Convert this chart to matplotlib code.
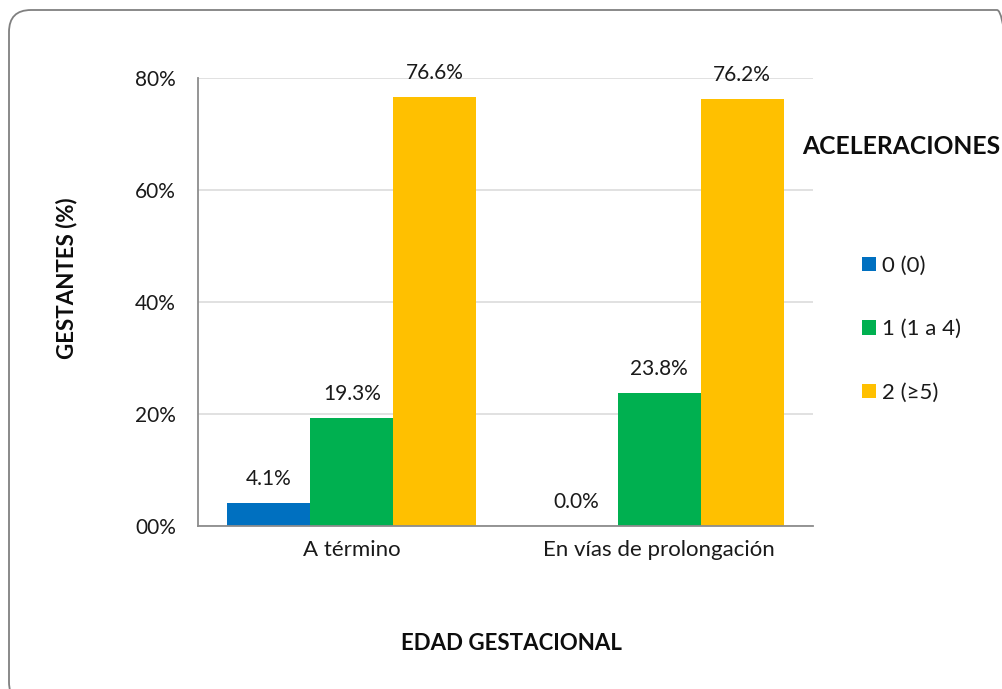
import numpy as np
import matplotlib
matplotlib.use('Agg')
import matplotlib.pyplot as plt
from matplotlib.patches import FancyBboxPatch

plt.rcParams['font.family'] = ['Lato', 'DejaVu Sans']

# data
categories = ['A término', 'En vías de prolongación']
series_names = ['0 (0)', '1 (1 a 4)', '2 (≥5)']
values = [
    [4.1, 0.0],    # 0 (0)
    [19.3, 23.8],  # 1 (1 a 4)
    [76.6, 76.2],  # 2 (≥5)
]
colors = ['#0070C0', '#00B050', '#FFC000']
yticks = [0, 20, 40, 60, 80]
ytick_labels = ['00%', '20%', '40%', '60%', '80%']

W, H = 1003, 689
fig = plt.figure(figsize=(W / 100, H / 100), dpi=100)
ax = fig.add_axes([198 / W, 1 - 526 / H, 615 / W, 448 / H])

# rounded frame, cut off at the right and bottom edges of the picture
frame = FancyBboxPatch((0.09, -0.15), 10.1, 6.94,
                       boxstyle='round,pad=0,rounding_size=0.22',
                       transform=fig.dpi_scale_trans, facecolor='none',
                       edgecolor='#808080', linewidth=1.3)
fig.patches.append(frame)

txt = '#1a1a1a'
x = np.arange(len(categories))
width = 0.27
bars = []
for i, (name, vals) in enumerate(zip(series_names, values)):
    pos = x + (i - 1) * width
    b = ax.bar(pos, vals, width, color=colors[i], label=name, zorder=2)
    bars.append(b)
    for xi, v in zip(pos, vals):
        ax.annotate(f'{v:.1f}%', (xi, v), xytext=(0, 13), textcoords='offset points',
                    ha='center', va='baseline', fontsize=15, color=txt)

ax.set_xlim(-0.5, 1.5)
ax.set_ylim(0, 80)
ax.set_yticks(yticks)
ax.set_yticklabels(ytick_labels, fontsize=15, color=txt)
ax.set_xticks(x)
ax.set_xticklabels(categories, fontsize=16, color=txt)
ax.tick_params(axis='x', length=0, pad=10)
ax.tick_params(axis='y', length=0, pad=16)
ax.yaxis.grid(True, color='#d9d9d9', linewidth=1.1, zorder=0)
ax.set_axisbelow(True)
for s in ['top', 'right']:
    ax.spines[s].set_visible(False)
for s in ['left', 'bottom']:
    ax.spines[s].set_color('#8c8c8c')
    ax.spines[s].set_linewidth(1.3)

fig.text(67 / W, 1 - 278 / H, 'GESTANTES (%)', rotation=90, ha='center', va='center',
         fontsize=16, fontweight='bold', color='#0d0d0d')
fig.text(511 / W, 1 - 644 / H, 'EDAD GESTACIONAL', ha='center', va='center',
         fontsize=16, fontweight='bold', color='#0d0d0d')
fig.text(901 / W, 1 - 146 / H, 'ACELERACIONES', ha='center', va='center',
         fontsize=17.7, fontweight='bold', color='#0d0d0d')

leg = fig.legend(handles=bars, labels=series_names, loc='upper left',
                 bbox_to_anchor=(862 / W, 1 - 256 / H), frameon=False,
                 fontsize=16, handlelength=0.62, handleheight=0.62, handletextpad=0.3,
                 labelspacing=1.95, borderaxespad=0, borderpad=0)
for t in leg.get_texts():
    t.set_color(txt)

fig.savefig('out.png', dpi=100)
